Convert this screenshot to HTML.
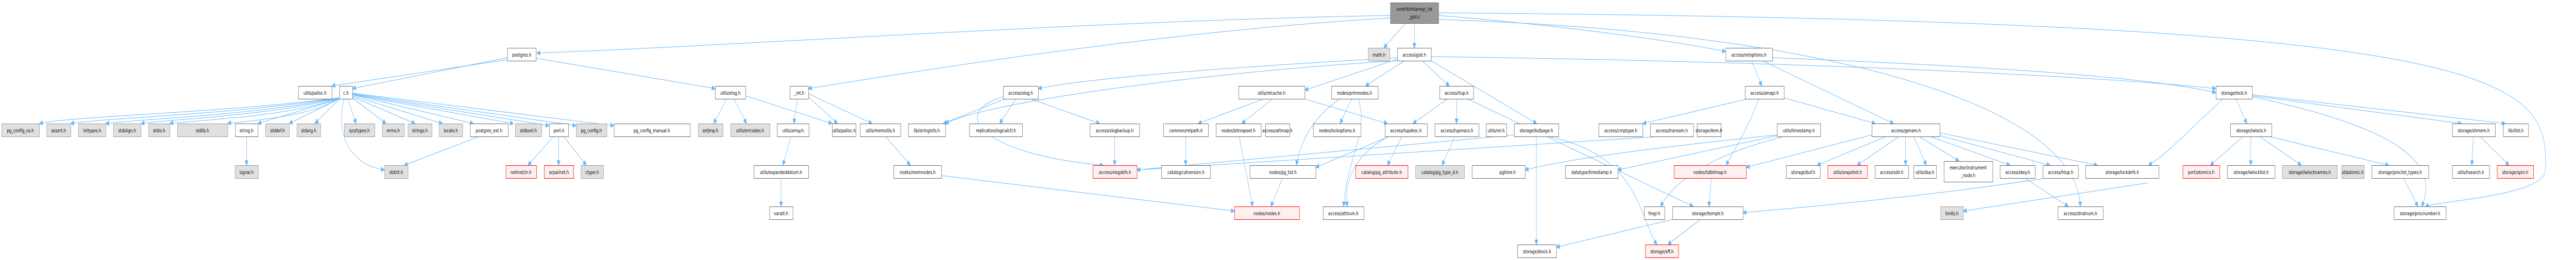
<!DOCTYPE html>
<html><head><meta charset="utf-8"><style>
html,body{margin:0;padding:0;background:#fff;width:100%;height:100%;overflow:hidden;}
svg{display:block;width:100vw;height:100vh;}
text{font-family:"DejaVu Sans","Liberation Sans",sans-serif;font-size:10px;fill:#000;text-anchor:middle;}
.w{fill:#fff;stroke:#666;stroke-width:1}
.g{fill:#e0e0e0;stroke:#999;stroke-width:1}
.r{fill:#fff0f0;stroke:#f00;stroke-width:1}
.rt{fill:#999;stroke:#666;stroke-width:1}
path{fill:none;stroke:#63b8ff;stroke-width:1}
</style></head><body>
<svg viewBox="0 0 7074 505" preserveAspectRatio="none" xmlns="http://www.w3.org/2000/svg">
<defs><marker id="a" viewBox="0 0 10 10" refX="10" refY="5" markerWidth="10" markerHeight="9" orient="auto" markerUnits="userSpaceOnUse"><path d="M0,0 L10,5 L0,10 z" style="fill:#63b8ff;stroke:#63b8ff"/></marker></defs>
<g marker-end="url(#a)">
<path d="M3818,30 C3000,40 2000,90 1474,103"/>
<path d="M3860,45 L3800,93"/>
<path d="M3884,45 L3884,93"/>
<path d="M3950,30 C4300,50 4600,80 4739,100"/>
<path d="M3818,35 C3200,60 2500,140 2220,172"/>
<path d="M3950,38 C5000,60 5700,200 5713,401"/>
<path d="M3950,25 C6900,40 7000,150 6990,330 C6990,380 6700,390 6660,401"/>
<path d="M1393,112 L968,172"/>
<path d="M1393,116 L911,167"/>
<path d="M1472,113 L1964,172"/>
<path d="M932,190 C600,220 200,225 108,240"/>
<path d="M932,190 C650,222 300,228 194,240"/>
<path d="M932,190 C700,224 400,230 290,240"/>
<path d="M932,190 C750,225 450,232 387,240"/>
<path d="M932,190 C800,228 500,235 466,240"/>
<path d="M932,190 C850,230 650,236 625,240"/>
<path d="M932,192 L708,240"/>
<path d="M932,192 L794,240"/>
<path d="M932,192 L865,240"/>
<path d="M955,192 L978,240"/>
<path d="M968,190 L1060,240"/>
<path d="M968,188 L1140,240"/>
<path d="M968,186 L1215,240"/>
<path d="M968,184 L1300,240"/>
<path d="M968,184 L1410,240"/>
<path d="M968,183 L1508,244"/>
<path d="M968,182 L1582,244"/>
<path d="M968,181 L1686,244"/>
<path d="M945,192 C920,260 960,320 1056,330"/>
<path d="M677,265 L677,321"/>
<path d="M1316,265 L1110,321"/>
<path d="M1520,265 L1450,321"/>
<path d="M1534,265 L1534,321"/>
<path d="M1548,265 L1610,321"/>
<path d="M1995,192 L1960,240"/>
<path d="M2015,192 L2050,240"/>
<path d="M2047,186 L2285,240"/>
<path d="M2190,192 L2180,240"/>
<path d="M2220,188 L2300,240"/>
<path d="M2220,182 L2395,240"/>
<path d="M2172,265 L2150,321"/>
<path d="M2145,346 L2145,401"/>
<path d="M2432,265 L2500,321"/>
<path d="M2585,341 L3390,410"/>
<path d="M2760,192 L2590,240"/>
<path d="M2790,192 L2745,240"/>
<path d="M2830,192 L3020,240"/>
<path d="M2755,188 C2600,220 2700,300 3030,321"/>
<path d="M3061,265 L3061,321"/>
<path d="M3470,192 L3290,240"/>
<path d="M3495,192 L3410,240"/>
<path d="M3583,192 L3810,240"/>
<path d="M3256,265 L3256,321"/>
<path d="M3403,265 L3440,401"/>
<path d="M3522,346 L3490,401"/>
<path d="M3857,118 L3750,167"/>
<path d="M3905,118 L3980,167"/>
<path d="M3837,115 L3583,175"/>
<path d="M3837,112 C3400,130 3000,150 2851,172"/>
<path d="M3837,118 C3300,140 2700,200 2596,240"/>
<path d="M3930,118 L4220,240"/>
<path d="M3930,110 C5000,120 5800,150 6085,172"/>
<path d="M3712,192 L3680,240"/>
<path d="M3680,192 C3600,230 3570,280 3560,321"/>
<path d="M3730,192 C3760,260 3700,300 3690,401"/>
<path d="M3975,192 L3880,240"/>
<path d="M4000,192 L4000,240"/>
<path d="M4030,192 L4650,401"/>
<path d="M3850,265 L3810,321"/>
<path d="M3820,262 C3720,300 3690,350 3700,401"/>
<path d="M3815,265 L3613,325"/>
<path d="M3995,265 L3960,321"/>
<path d="M4219,265 L4219,475"/>
<path d="M4250,265 C4500,300 4500,420 4550,475"/>
<path d="M4158,262 L3122,330"/>
<path d="M4810,118 L4838,167"/>
<path d="M4840,118 L5200,240"/>
<path d="M4867,112 C5500,130 5900,150 6085,180"/>
<path d="M4899,190 L5150,240"/>
<path d="M4800,192 L4511,240"/>
<path d="M4830,192 C4800,250 4770,280 4740,321"/>
<path d="M5180,265 L4990,321"/>
<path d="M5215,265 L5100,321"/>
<path d="M5233,265 L5233,321"/>
<path d="M5255,265 L5290,321"/>
<path d="M5270,265 L5380,313"/>
<path d="M5300,265 L5520,321"/>
<path d="M5320,262 L5630,321"/>
<path d="M5327,258 L5760,321"/>
<path d="M5140,262 L4795,325"/>
<path d="M5560,346 L5680,401"/>
<path d="M5620,346 C5300,380 5000,400 4786,413"/>
<path d="M4700,346 L4693,401"/>
<path d="M4600,425 L4274,480"/>
<path d="M4670,426 L4580,475"/>
<path d="M4560,265 C4000,290 3500,310 3122,330"/>
<path d="M4890,262 L4443,330"/>
<path d="M4900,265 C4700,300 4600,350 4560,401"/>
<path d="M4880,262 C4500,290 4300,310 4188,330"/>
<path d="M6105,192 C6000,260 5950,300 5900,321"/>
<path d="M6140,192 L6170,240"/>
<path d="M6185,186 L6760,240"/>
<path d="M6185,184 L6880,240"/>
<path d="M6185,188 C6600,250 6700,320 6650,401"/>
<path d="M6160,265 L6070,321"/>
<path d="M6181,265 L6181,321"/>
<path d="M6205,265 L6320,321"/>
<path d="M6230,265 L6560,321"/>
<path d="M6600,346 L6640,401"/>
<path d="M6792,265 L6788,321"/>
<path d="M6810,265 L6890,321"/>
<path d="M5900,355 L5391,410"/>
</g>

<rect class="rt" x="3818.5" y="5.5" width="132" height="40"/><text x="3884" y="21">contrib/intarray/_int</text><text x="3884" y="36">_gist.c</text>

<rect class="w" x="1393.5" y="93.5" width="79" height="25"/><text x="1433" y="110">postgres.h</text>
<rect class="g" x="3757.5" y="93.5" width="59" height="25"/><text x="3787" y="110">math.h</text>
<rect class="w" x="3837.5" y="93.5" width="93" height="25"/><text x="3884" y="110">access/gist.h</text>
<rect class="w" x="4739.5" y="93.5" width="128" height="25"/><text x="4803" y="110">access/reloptions.h</text>

<rect class="w" x="819.5" y="167.5" width="92" height="25"/><text x="865" y="184">utils/palloc.h</text>
<rect class="w" x="932.5" y="167.5" width="36" height="25"/><text x="950" y="184">c.h</text>
<rect class="w" x="1964.5" y="167.5" width="83" height="25"/><text x="2006" y="184">utils/elog.h</text>
<rect class="w" x="2169.5" y="167.5" width="51" height="25"/><text x="2195" y="184">_int.h</text>
<rect class="w" x="2755.5" y="167.5" width="96" height="25"/><text x="2803" y="184">access/xlog.h</text>
<rect class="w" x="3401.5" y="167.5" width="182" height="25"/><text x="3492" y="184">utils/relcache.h</text>
<rect class="w" x="3656.5" y="167.5" width="128" height="25"/><text x="3720" y="184">nodes/primnodes.h</text>
<rect class="w" x="3953.5" y="167.5" width="93" height="25"/><text x="4000" y="184">access/itup.h</text>
<rect class="w" x="4792.5" y="167.5" width="107" height="25"/><text x="4846" y="184">access/amapi.h</text>
<rect class="w" x="6085.5" y="167.5" width="100" height="25"/><text x="6135" y="184">storage/lock.h</text>

<rect class="g" x="4.5" y="240.5" width="104" height="25"/><text x="56" y="257">pg_config_os.h</text>
<rect class="g" x="128.5" y="240.5" width="66" height="25"/><text x="161" y="257">assert.h</text>
<rect class="g" x="215.5" y="240.5" width="75" height="25"/><text x="253" y="257">inttypes.h</text>
<rect class="g" x="311.5" y="240.5" width="76" height="25"/><text x="349" y="257">stdalign.h</text>
<rect class="g" x="408.5" y="240.5" width="58" height="25"/><text x="437" y="257">stdio.h</text>
<rect class="g" x="487.5" y="240.5" width="138" height="25"/><text x="556" y="257">stdlib.h</text>
<rect class="w" x="646.5" y="240.5" width="62" height="25"/><text x="677" y="257">string.h</text>
<rect class="g" x="729.5" y="240.5" width="65" height="25"/><text x="762" y="257">stddef.h</text>
<rect class="g" x="815.5" y="240.5" width="65" height="25"/><text x="848" y="257">stdarg.h</text>
<rect class="g" x="945.5" y="240.5" width="84" height="25"/><text x="987" y="257">sys/types.h</text>
<rect class="g" x="1050.5" y="240.5" width="60" height="25"/><text x="1080" y="257">errno.h</text>
<rect class="g" x="1120.5" y="240.5" width="66" height="25"/><text x="1153" y="257">strings.h</text>
<rect class="g" x="1206.5" y="240.5" width="64" height="25"/><text x="1238" y="257">locale.h</text>
<rect class="w" x="1291.5" y="240.5" width="104" height="25"/><text x="1343" y="257">postgres_ext.h</text>
<rect class="g" x="1415.5" y="240.5" width="72" height="25"/><text x="1451" y="257">stdbool.h</text>
<rect class="w" x="1508.5" y="240.5" width="53" height="25"/><text x="1535" y="257">port.h</text>
<rect class="g" x="1582.5" y="240.5" width="84" height="25"/><text x="1624" y="257">pg_config.h</text>
<rect class="w" x="1686.5" y="240.5" width="209" height="25"/><text x="1790" y="257">pg_config_manual.h</text>
<rect class="g" x="1917.5" y="240.5" width="68" height="25"/><text x="1951" y="257">setjmp.h</text>
<rect class="g" x="2006.5" y="240.5" width="108" height="25"/><text x="2060" y="257">utils/errcodes.h</text>
<rect class="w" x="2134.5" y="240.5" width="87" height="25"/><text x="2178" y="257">utils/array.h</text>
<rect class="w" x="2285.5" y="240.5" width="65" height="25"/><text x="2318" y="257">utils/palloc.h</text>
<rect class="w" x="2362.5" y="240.5" width="111" height="25"/><text x="2418" y="257">utils/memutils.h</text>
<rect class="w" x="2494.5" y="240.5" width="102" height="25"/><text x="2545" y="257">lib/stringinfo.h</text>
<rect class="w" x="2662.5" y="240.5" width="145" height="25"/><text x="2735" y="257">replication/logicalctl.h</text>
<rect class="w" x="2993.5" y="240.5" width="136" height="25"/><text x="3061" y="257">access/xlogbackup.h</text>
<rect class="w" x="3195.5" y="240.5" width="123" height="25"/><text x="3257" y="257">common/relpath.h</text>
<rect class="w" x="3339.5" y="240.5" width="124" height="25"/><text x="3401" y="257">nodes/bitmapset.h</text>
<rect class="w" x="3475.5" y="240.5" width="66" height="25"/><text x="3508" y="257">access/attmap.h</text>
<rect class="w" x="3606.5" y="240.5" width="131" height="25"/><text x="3672" y="257">nodes/lockoptions.h</text>
<rect class="w" x="3803.5" y="240.5" width="116" height="25"/><text x="3861" y="257">access/tupdesc.h</text>
<rect class="w" x="3940.5" y="240.5" width="121" height="25"/><text x="4001" y="257">access/tupmacs.h</text>
<rect class="w" x="4081.5" y="240.5" width="56" height="25"/><text x="4109" y="257">utils/rel.h</text>
<rect class="w" x="4158.5" y="240.5" width="122" height="25"/><text x="4219" y="257">storage/bufpage.h</text>
<rect class="w" x="4390.5" y="240.5" width="121" height="25"/><text x="4451" y="257">access/cmptype.h</text>
<rect class="w" x="4532.5" y="240.5" width="118" height="25"/><text x="4591" y="257">access/transam.h</text>
<rect class="w" x="4660.5" y="240.5" width="66" height="25"/><text x="4693" y="257">storage/item.h</text>
<rect class="w" x="4880.5" y="240.5" width="119" height="25"/><text x="4940" y="257">utils/timestamp.h</text>
<rect class="w" x="5140.5" y="240.5" width="187" height="25"/><text x="5234" y="257">access/genam.h</text>
<rect class="w" x="6125.5" y="240.5" width="113" height="25"/><text x="6182" y="257">storage/lwlock.h</text>
<rect class="w" x="6734.5" y="240.5" width="118" height="25"/><text x="6793" y="257">storage/shmem.h</text>
<rect class="w" x="6874.5" y="240.5" width="69" height="25"/><text x="6909" y="257">lib/ilist.h</text>

<rect class="g" x="645.5" y="321.5" width="64" height="25"/><text x="677" y="338">signal.h</text>
<rect class="g" x="1056.5" y="321.5" width="64" height="25"/><text x="1088" y="338">stdint.h</text>
<rect class="r" x="1389.5" y="321.5" width="84" height="25"/><text x="1431" y="338">netinet/in.h</text>
<rect class="r" x="1494.5" y="321.5" width="81" height="25"/><text x="1535" y="338">arpa/inet.h</text>
<rect class="g" x="1595.5" y="321.5" width="62" height="25"/><text x="1626" y="338">ctype.h</text>
<rect class="w" x="2070.5" y="321.5" width="150" height="25"/><text x="2145" y="338">utils/expandeddatum.h</text>
<rect class="w" x="2454.5" y="321.5" width="131" height="25"/><text x="2520" y="338">nodes/memnodes.h</text>
<rect class="r" x="3001.5" y="321.5" width="121" height="25"/><text x="3062" y="338">access/xlogdefs.h</text>
<rect class="w" x="3189.5" y="321.5" width="135" height="25"/><text x="3257" y="338">catalog/catversion.h</text>
<rect class="w" x="3432.5" y="321.5" width="181" height="25"/><text x="3523" y="338">nodes/pg_list.h</text>
<rect class="r" x="3722.5" y="321.5" width="144" height="25"/><text x="3794" y="338">catalog/pg_attribute.h</text>
<rect class="g" x="3887.5" y="321.5" width="134" height="25"/><text x="3954" y="338">catalog/pg_type_d.h</text>
<rect class="w" x="4042.5" y="321.5" width="146" height="25"/><text x="4140" y="338">pgtime.h</text>
<rect class="w" x="4298.5" y="321.5" width="145" height="25"/><text x="4371" y="338">datatype/timestamp.h</text>
<rect class="r" x="4597.5" y="321.5" width="198" height="25"/><text x="4696" y="338">nodes/tidbitmap.h</text>
<rect class="w" x="4905.5" y="321.5" width="93" height="25"/><text x="4952" y="338">storage/buf.h</text>
<rect class="r" x="5019.5" y="321.5" width="109" height="25"/><text x="5074" y="338">utils/snapshot.h</text>
<rect class="w" x="5149.5" y="321.5" width="92" height="25"/><text x="5195" y="338">access/sdir.h</text>
<rect class="w" x="5255.5" y="321.5" width="62" height="25"/><text x="5286" y="338">utils/dsa.h</text>
<rect class="w" x="5338.5" y="313.5" width="134" height="40"/><text x="5405" y="329">executor/instrument</text><text x="5405" y="344">_node.h</text>
<rect class="w" x="5492.5" y="321.5" width="97" height="25"/><text x="5541" y="338">access/skey.h</text>
<rect class="w" x="5610.5" y="321.5" width="97" height="25"/><text x="5659" y="338">access/htup.h</text>
<rect class="w" x="5727.5" y="321.5" width="201" height="25"/><text x="5828" y="338">storage/lockdefs.h</text>
<rect class="r" x="5994.5" y="321.5" width="101" height="25"/><text x="6045" y="338">port/atomics.h</text>
<rect class="w" x="6116.5" y="321.5" width="131" height="25"/><text x="6182" y="338">storage/lwlocklist.h</text>
<rect class="g" x="6267.5" y="321.5" width="151" height="25"/><text x="6343" y="338">storage/lwlocknames.h</text>
<rect class="g" x="6430.5" y="321.5" width="62" height="25"/><text x="6461" y="338">stdatomic.h</text>
<rect class="w" x="6513.5" y="321.5" width="156" height="25"/><text x="6591" y="338">storage/proclist_types.h</text>
<rect class="w" x="6734.5" y="321.5" width="102" height="25"/><text x="6785" y="338">utils/hsearch.h</text>
<rect class="r" x="6857.5" y="321.5" width="100" height="25"/><text x="6907" y="338">storage/spin.h</text>

<rect class="w" x="2113.5" y="401.5" width="64" height="25"/><text x="2145" y="418">varatt.h</text>
<rect class="r" x="3390.5" y="401.5" width="178" height="25"/><text x="3479" y="418">nodes/nodes.h</text>
<rect class="w" x="3633.5" y="401.5" width="112" height="25"/><text x="3689" y="418">access/attnum.h</text>
<rect class="w" x="4515.5" y="401.5" width="56" height="25"/><text x="4543" y="418">fmgr.h</text>
<rect class="w" x="4593.5" y="401.5" width="193" height="25"/><text x="4690" y="418">storage/itemptr.h</text>
<rect class="g" x="5329.5" y="401.5" width="62" height="25"/><text x="5360" y="418">limits.h</text>
<rect class="w" x="5651.5" y="401.5" width="124" height="25"/><text x="5713" y="418">access/stratnum.h</text>
<rect class="w" x="6574.5" y="401.5" width="143" height="25"/><text x="6646" y="418">storage/procnumber.h</text>

<rect class="w" x="4167.5" y="475.5" width="107" height="25"/><text x="4221" y="492">storage/block.h</text>
<rect class="r" x="4518.5" y="475.5" width="91" height="25"/><text x="4564" y="492">storage/off.h</text>
</svg>
</body></html>
